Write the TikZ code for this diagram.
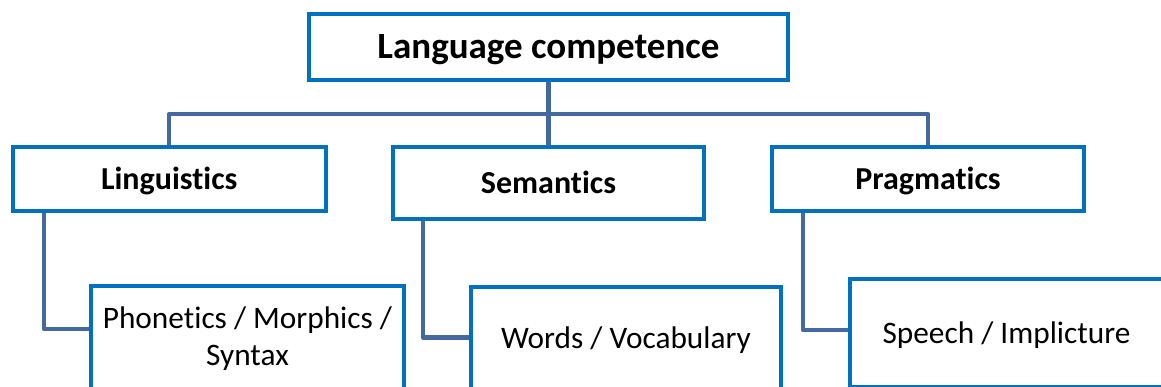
\documentclass[tikz,border=0pt]{standalone}
\usepackage{fontspec}
\setmainfont{Carlito}[Ligatures={NoCommon,NoContextual}]
\usetikzlibrary{backgrounds}
\definecolor{boxblue}{HTML}{0070C0}
\definecolor{linkslate}{HTML}{43699E}
\tikzset{
  box/.style={draw=boxblue, line width=4pt, fill=white, rectangle,
    inner sep=0pt, outer sep=0pt, text=black},
  headbox/.style={box, font=\fontsize{37}{44}\selectfont\bfseries,
    text height=23.5pt, text depth=0pt},
  areabox/.style={box, font=\fontsize{32}{38}\selectfont\bfseries,
    text height=20.5pt, text depth=0pt},
  leafbox/.style={box, font=\fontsize{31.3}{37}\selectfont, align=center},
  conn/.style={draw=linkslate, line width=4.5pt, line join=round}
}
\begin{document}
\begin{tikzpicture}[x=1pt, y=-1pt]
  \useasboundingbox (0,0) rectangle (1161,387);
  \clip (0,0) rectangle (1161,387);

  % root
  \node[headbox, minimum width=479pt, minimum height=66pt] (root) at (548.5,47) {Language competence};

  % second level
  \node[areabox, minimum width=313pt, minimum height=64pt] (ling) at (169.2,179.3) {Linguistics};
  \node[areabox, minimum width=311pt, minimum height=72pt] (sem)  at (548.5,183) {Semantics};
  \node[areabox, minimum width=312pt, minimum height=64pt] (prag) at (928,179) {Pragmatics};

  % third level
  \node[leafbox, minimum width=313pt, minimum height=105pt] (phon) at (247.5,338.5) {Phonetics / Morphics /\\Syntax};
  \node[leafbox, minimum width=310pt, minimum height=102pt, text height=20pt, text depth=0pt] (words) at (626,338) {Words / Vocabulary};
  \node[leafbox, minimum width=313pt, minimum height=108pt, text height=20pt, text depth=0pt] (speech) at (1006.5,333) {Speech / Implicture};

  % bend points of the connectors
  \coordinate (bus) at (548.5,114);
  \coordinate (lj) at (44,329);
  \coordinate (sj) at (423,337.3);
  \coordinate (pj) at (803,330);

  \begin{pgfonlayer}{background}
    \draw[conn] (root.south) -- (sem.north);
    \draw[conn] (ling.north) |- (bus) -| (prag.north);
    \draw[conn] (ling.south -| lj) |- (phon.west |- lj);
    \draw[conn] (sem.south -| sj) |- (words.west |- sj);
    \draw[conn] (prag.south -| pj) |- (speech.west |- pj);
  \end{pgfonlayer}
\end{tikzpicture}
\end{document}
